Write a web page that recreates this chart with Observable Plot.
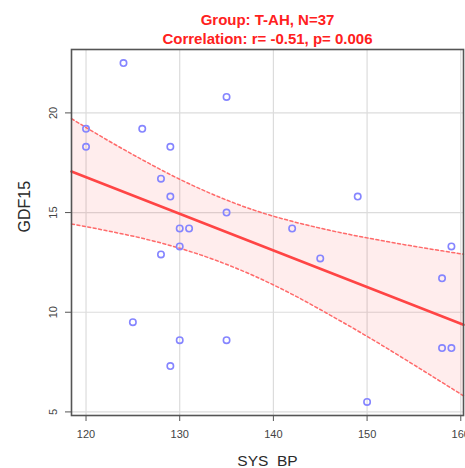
<!DOCTYPE html>
<html>
<head>
<meta charset="utf-8">
<script src="https://cdn.jsdelivr.net/npm/d3@7"></script>
<script src="https://cdn.jsdelivr.net/npm/@observablehq/plot@0.6"></script>
<style>
  html, body { margin: 0; padding: 0; background: #fff; }
  #chart svg { display: block; }
</style>
</head>
<body>
<div id="chart"></div>
<script>
const sysBP = [124, 120, 126, 120, 128, 135, 129, 129, 135, 130, 131, 142, 149, 128, 130, 130, 135, 129, 125, 145, 159, 158, 158, 159, 150];
const gdf15 = [22.5, 19.2, 19.2, 18.3, 16.7, 20.8, 18.3, 15.8, 15.0, 14.2, 14.2, 14.2, 15.8, 12.9, 13.3, 8.6, 8.6, 7.3, 9.5, 12.7, 13.3, 11.7, 8.2, 8.2, 5.5];

// Fitted regression line (ends)
const fitX = [118.45, 160.29];
const fitY = [17.06, 9.37];

// Confidence band
const bandX     = [118.45, 122, 126, 130, 134, 138, 142, 146, 150, 154, 158, 160.29];
const bandUpper = [19.71, 18.71, 17.65, 16.67, 15.82, 15.11, 14.56, 14.11, 13.73, 13.39, 13.08, 12.91];
const bandLower = [14.43, 14.11, 13.71, 13.21, 12.58, 11.81, 10.90, 9.87, 8.79, 7.65, 6.48, 5.81];

const xTicks = [120, 130, 140, 150, 160];
const yTicks = [5, 10, 15, 20];

const titleLines = ["Group: T-AH, N=37", "Correlation: r= -0.51, p= 0.006"];
const xLabel = "SYS\u00A0\u00A0BP";
const yLabel = "GDF15";

const points = sysBP.map((x, i) => ({x, y: gdf15[i]}));
const fit = fitX.map((x, i) => ({x, y: fitY[i]}));
const band = bandX.map((x, i) => ({x, hi: bandUpper[i], lo: bandLower[i]}));

const font = "Liberation Sans, Arial, Helvetica, sans-serif";

const chart = Plot.plot({
  width: 465,
  height: 468,
  marginLeft: 71,
  marginRight: 2,
  marginTop: 49,
  marginBottom: 53,
  style: {fontFamily: font, background: "#fff"},
  x: {domain: [118.45, 160.29]},
  y: {domain: [4.82, 23.18]},
  marks: [
    Plot.gridX(xTicks, {stroke: "#dcdcdc", strokeOpacity: 1, strokeWidth: 1.2}),
    Plot.gridY(yTicks, {stroke: "#dcdcdc", strokeOpacity: 1, strokeWidth: 1.2}),
    Plot.areaY(band, {x: "x", y1: "lo", y2: "hi", fill: "#ff0000", fillOpacity: 0.07, curve: "monotone-x"}),
    Plot.line(band, {x: "x", y: "hi", stroke: "#ff6a6a", strokeWidth: 1.5, strokeDasharray: "3,2.5", curve: "monotone-x"}),
    Plot.line(band, {x: "x", y: "lo", stroke: "#ff6a6a", strokeWidth: 1.5, strokeDasharray: "3,2.5", curve: "monotone-x"}),
    Plot.line(fit, {x: "x", y: "y", stroke: "#ff4545", strokeWidth: 2.6}),
    Plot.dot(points, {x: "x", y: "y", r: 3.2, stroke: "#8585ff", strokeWidth: 1.6, fill: "none"}),
    Plot.frame({stroke: "#555", strokeWidth: 1.6}),
    Plot.axisX(xTicks, {tickSize: 6, tickPadding: 9, fontSize: 11, color: "#444", label: null, stroke: "#555"}),
    Plot.axisY(yTicks, {tickSize: 6, tickPadding: 9, fontSize: 11, color: "#444", label: null, tickRotate: -90, stroke: "#555"}),
    Plot.text([titleLines[0]], {frameAnchor: "top", lineAnchor: "middle", dy: -29, fontSize: 15, fontWeight: "bold", fill: "#ff2020"}),
    Plot.text([titleLines[1]], {frameAnchor: "top", lineAnchor: "middle", dy: -10, fontSize: 15, fontWeight: "bold", fill: "#ff2020"}),
    Plot.text([xLabel], {frameAnchor: "bottom", lineAnchor: "middle", dy: 46, fontSize: 15.5, fill: "#2a2a2a"}),
    Plot.text([yLabel], {frameAnchor: "left", dx: -47, rotate: -90, fontSize: 16, fill: "#2a2a2a"})
  ]
});
document.getElementById("chart").appendChild(chart);
</script>
</body>
</html>
